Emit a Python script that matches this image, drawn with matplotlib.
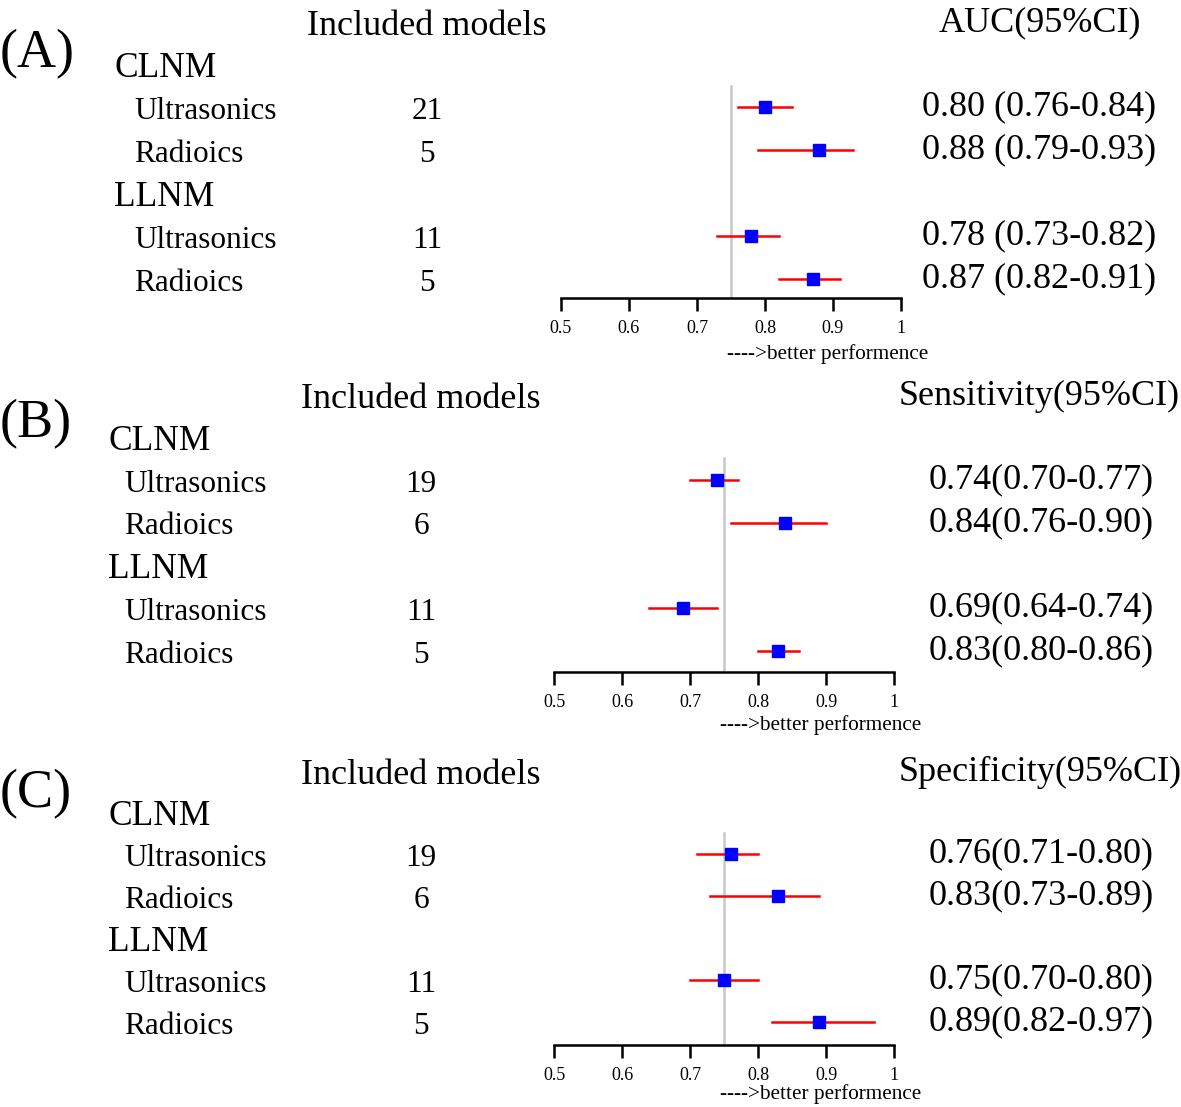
import matplotlib
matplotlib.use("Agg")
import matplotlib.pyplot as plt
from matplotlib.transforms import blended_transform_factory

plt.rcParams["font.family"] = ["Liberation Serif", "DejaVu Serif"]

# ---- data -------------------------------------------------------------
row_labels = ["Ultrasonics", "Radioics", "Ultrasonics", "Radioics"]
group_labels = ["CLNM", "LLNM"]

auc_models = [21, 5, 11, 5]
auc_est = [0.80, 0.88, 0.78, 0.87]
auc_lo = [0.76, 0.79, 0.73, 0.82]
auc_hi = [0.84, 0.93, 0.82, 0.91]

sens_models = [19, 6, 11, 5]
sens_est = [0.74, 0.84, 0.69, 0.83]
sens_lo = [0.70, 0.76, 0.64, 0.80]
sens_hi = [0.77, 0.90, 0.74, 0.86]

spec_models = [19, 6, 11, 5]
spec_est = [0.76, 0.83, 0.75, 0.89]
spec_lo = [0.71, 0.73, 0.70, 0.82]
spec_hi = [0.80, 0.89, 0.80, 0.97]

x_ticks = [0.5, 0.6, 0.7, 0.8, 0.9, 1.0]
x_ticklabels = ["0.5", "0.6", "0.7", "0.8", "0.9", "1"]
ref_line = 0.75

W, H = 1181, 1107

# layout per panel (pixel values)
PANELS = [
    dict(tag="(A)", metric="AUC(95%CI)", models=auc_models, est=auc_est, lo=auc_lo, hi=auc_hi,
         fmt="{:.2f} ({:.2f}-{:.2f})", y0=64, sp=43, axis_px=298, x_left=561, x_right=901,
         grp_x=114, sub_x=134, num_x=427, val_x=922, inc_x=307, met_x=1040, tag_row=-0.33,
         better_off=-40),
    dict(tag="(B)", metric="Sensitivity(95%CI)", models=sens_models, est=sens_est, lo=sens_lo, hi=sens_hi,
         fmt="{:.2f}({:.2f}-{:.2f})", y0=437, sp=42.8, axis_px=672, x_left=554, x_right=894,
         grp_x=108, sub_x=124, num_x=421, val_x=929, inc_x=301, met_x=1039, tag_row=-0.4,
         better_off=-38.5),
    dict(tag="(C)", metric="Specificity(95%CI)", models=spec_models, est=spec_est, lo=spec_lo, hi=spec_hi,
         fmt="{:.2f}({:.2f}-{:.2f})", y0=812, sp=42, axis_px=1045, x_left=554, x_right=894,
         grp_x=108, sub_x=124, num_x=421, val_x=929, inc_x=301, met_x=1040, tag_row=-0.52,
         better_off=-35.5),
]

data_rows = [1, 2, 4, 5]
group_rows = [0, 3]
txt_shift = 0.1  # text boxes sit a little high with va="center"

fig = plt.figure(figsize=(W / 100, H / 100), dpi=100)

for p in PANELS:
    axis_row = (p["axis_px"] - p["y0"]) / p["sp"]
    top_row = -1.6
    top_px = p["y0"] + top_row * p["sp"]
    ax = fig.add_axes([p["x_left"] / W, 1 - p["axis_px"] / H,
                       (p["x_right"] - p["x_left"]) / W, (p["axis_px"] - top_px) / H])
    ax.set_xlim(0.5, 1.0)
    ax.set_ylim(axis_row, top_row)
    for s in ["top", "right", "left"]:
        ax.spines[s].set_visible(False)
    ax.spines["bottom"].set_linewidth(1.8)
    ax.set_yticks([])
    ax.set_xticks(x_ticks)
    ax.set_xticklabels(x_ticklabels, fontsize=13)
    ax.tick_params(axis="x", direction="out", length=9.5, width=1.8, pad=6)
    ax.patch.set_alpha(0)

    # reference line
    ax.plot([ref_line, ref_line], [0.5, axis_row], color="#c8c8c8", lw=1.8, zorder=1)

    # CIs and point estimates
    for r, e, lo, hi in zip(data_rows, p["est"], p["lo"], p["hi"]):
        ax.plot([lo, hi], [r, r], color="#ff0000", lw=1.8, zorder=2)
        ax.plot([e], [r], marker="s", color="#0000ff", markersize=9, ls="none", zorder=3)

    ax.annotate("---->better performence", xy=(0.785, 0), xycoords="axes fraction",
                xytext=(0, p["better_off"]), textcoords="offset points", ha="center", va="center",
                fontsize=15.3, annotation_clip=False)

    # text columns (x in figure, y in rows)
    tr = blended_transform_factory(fig.transFigure, ax.transData)
    kw = dict(transform=tr, clip_on=False, va="center")
    fig_x = lambda px: px / W
    sh = txt_shift

    ax.text(fig_x(0), p["tag_row"] + sh, p["tag"], fontsize=39, ha="left", **kw)
    ax.text(fig_x(p["inc_x"]), -0.98 + sh, "Included models", fontsize=26, ha="left", **kw)
    ax.text(fig_x(p["met_x"]), -1.05 + sh, p["metric"], fontsize=26, ha="center", **kw)

    for r, g in zip(group_rows, group_labels):
        ax.text(fig_x(p["grp_x"]), r + sh, g, fontsize=25.5, ha="left", **kw)
    for r, lab, n, e, lo, hi in zip(data_rows, row_labels, p["models"], p["est"], p["lo"], p["hi"]):
        ax.text(fig_x(p["sub_x"]), r + sh, lab, fontsize=22.5, ha="left", **kw)
        ax.text(fig_x(p["num_x"]), r + sh, str(n), fontsize=22.5, ha="center", **kw)
        ax.text(fig_x(p["val_x"]), r - 0.1 + sh, p["fmt"].format(e, lo, hi), fontsize=26, ha="left", **kw)

fig.savefig("out.png", dpi=100)
